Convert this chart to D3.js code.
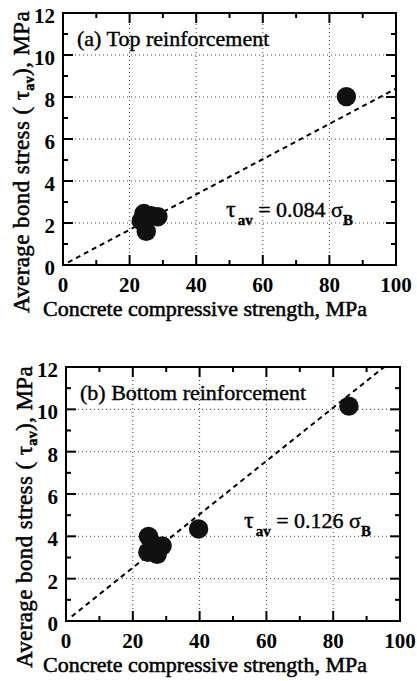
<!DOCTYPE html>
<html>
<head>
<meta charset="utf-8">
<script src="https://cdn.jsdelivr.net/npm/d3@7"></script>
<style>
  html, body { margin: 0; padding: 0; background: #fff; }
  svg { display: block; }
  text { font-family: "Liberation Serif", "DejaVu Serif", serif; fill: #000; }
</style>
</head>
<body>
<svg id="chart" width="417" height="681"></svg>
<script>
// ---------- data ----------
const xTickValues = [0, 20, 40, 60, 80, 100];
const yTickValues = [0, 2, 4, 6, 8, 10, 12];
const xMinorTicks = [10, 30, 50, 70, 90];
const yMinorTicks = [1, 3, 5, 7, 9, 11];
const xGrid = [20, 40, 60, 80];
const yGrid = [2, 4, 6, 8, 10];

// (a) Top reinforcement: concrete strength (MPa) vs average bond stress (MPa)
const topStrength = [24.3, 23.5, 26.5, 28.5, 25.0, 85.1];
const topBond     = [2.45, 2.10, 2.35, 2.30, 1.60, 8.02];
const topSlope = 0.084;
const topFitRange = [1.5, 100];

// (b) Bottom reinforcement
const botStrength = [24.7, 26.5, 28.8, 24.5, 27.3, 39.7, 84.7];
const botBond     = [4.00, 3.50, 3.55, 3.25, 3.15, 4.35, 10.15];
const botSlope = 0.126;
const botFitRange = [1.7, 95.2];

const panelLabels = ["(a) Top reinforcement", "(b) Bottom reinforcement"];
const slopeLabels = ["0.084", "0.126"];
const xTitle = "Concrete compressive strength, MPa";

// ---------- drawing ----------
const svg = d3.select("#chart");

function drawPanel(cfg) {
  const x = d3.scaleLinear().domain([0, 100]).range([cfg.left, cfg.right]);
  const y = d3.scaleLinear().domain([0, 12]).range([cfg.bottom, cfg.top]);
  const g = svg.append("g");

  // dotted grid
  g.selectAll(".gx").data(xGrid).join("line")
    .attr("x1", d => x(d)).attr("x2", d => x(d))
    .attr("y1", y(0)).attr("y2", y(12))
    .attr("stroke", "#444").attr("stroke-width", 1).attr("stroke-dasharray", "1,3");
  g.selectAll(".gy").data(yGrid).join("line")
    .attr("x1", x(0)).attr("x2", x(100))
    .attr("y1", d => y(d)).attr("y2", d => y(d))
    .attr("stroke", "#444").attr("stroke-width", 1).attr("stroke-dasharray", "1,3");

  // ticks (inward, all four sides)
  const major = 10, minor = 5;
  const tickStyle = sel => sel.attr("stroke", "#000").attr("stroke-width", 2);
  [[xTickValues, major], [xMinorTicks, minor]].forEach(([vals, len]) => {
    g.append("g").selectAll("line").data(vals).join("line")
      .attr("x1", d => x(d)).attr("x2", d => x(d))
      .attr("y1", y(0)).attr("y2", y(0) - len).call(tickStyle);
    g.append("g").selectAll("line").data(vals).join("line")
      .attr("x1", d => x(d)).attr("x2", d => x(d))
      .attr("y1", y(12)).attr("y2", y(12) + len).call(tickStyle);
  });
  [[yTickValues, major], [yMinorTicks, minor]].forEach(([vals, len]) => {
    g.append("g").selectAll("line").data(vals).join("line")
      .attr("y1", d => y(d)).attr("y2", d => y(d))
      .attr("x1", x(0)).attr("x2", x(0) + len).call(tickStyle);
    g.append("g").selectAll("line").data(vals).join("line")
      .attr("y1", d => y(d)).attr("y2", d => y(d))
      .attr("x1", x(100)).attr("x2", x(100) - len).call(tickStyle);
  });

  // frame
  g.append("rect")
    .attr("x", x(0)).attr("y", y(12))
    .attr("width", x(100) - x(0)).attr("height", y(0) - y(12))
    .attr("fill", "none").attr("stroke", "#000").attr("stroke-width", 2);

  // fit line
  const line = d3.line().x(d => x(d)).y(d => y(cfg.slope * d));
  g.append("path").datum(cfg.fitRange)
    .attr("d", line)
    .attr("fill", "none").attr("stroke", "#000")
    .attr("stroke-width", 2).attr("stroke-dasharray", "5,4");

  // points
  g.append("g").selectAll("circle").data(cfg.xs.map((v, i) => [v, cfg.ys[i]])).join("circle")
    .attr("cx", d => x(d[0])).attr("cy", d => y(d[1]))
    .attr("r", 9.7).attr("fill", "#111");

  // tick labels
  g.append("g").selectAll("text").data(xTickValues).join("text")
    .attr("x", d => x(d)).attr("y", y(0) + 27)
    .attr("text-anchor", "middle")
    .attr("font-size", 21).attr("font-weight", "bold")
    .text(d => d);
  g.append("g").selectAll("text").data(yTickValues).join("text")
    .attr("x", x(0) - 8).attr("y", d => y(d) + 10)
    .attr("text-anchor", "end")
    .attr("font-size", 21).attr("font-weight", "bold")
    .text(d => d);

  // panel label
  g.append("text")
    .attr("x", cfg.left + 14).attr("y", cfg.top + 33)
    .attr("font-size", 22).attr("stroke", "#000").attr("stroke-width", 0.4)
    .text(cfg.label);

  // formula
  const f = g.append("text")
    .attr("x", cfg.fx).attr("y", cfg.fy)
    .attr("font-size", 22).attr("stroke", "#000").attr("stroke-width", 0.4);
  f.append("tspan").attr("font-size", 24).text("τ");
  f.append("tspan").attr("dx", 2).attr("dy", 8).attr("font-size", 15).attr("font-weight", "bold").text("av");
  f.append("tspan").attr("dy", -8).text(" = " + cfg.slopeLabel + " σ");
  f.append("tspan").attr("dy", 8).attr("font-size", 15).attr("font-weight", "bold").text("B");

  // x title
  g.append("text")
    .attr("x", 43).attr("y", y(0) + 51)
    .attr("font-size", 21).attr("stroke", "#000").attr("stroke-width", 0.5)
    .attr("textLength", 324).attr("lengthAdjust", "spacingAndGlyphs")
    .text(xTitle);

  // y title
  const yc = (y(0) + y(12)) / 2 + 23;
  const t = g.append("text")
    .attr("transform", `translate(${cfg.left - 34},${yc}) rotate(-90)`)
    .attr("text-anchor", "middle")
    .attr("font-size", 23).attr("letter-spacing", 0.4)
    .attr("stroke", "#000").attr("stroke-width", 0.5);
  t.append("tspan").text("Average bond stress ( τ");
  t.append("tspan").attr("dy", 5).attr("font-size", 14).attr("font-weight", "bold").text("av");
  t.append("tspan").attr("dy", -5).text("), MPa");
}

drawPanel({
  left: 63, right: 396, top: 13, bottom: 265,
  xs: topStrength, ys: topBond, slope: topSlope, fitRange: topFitRange,
  label: panelLabels[0], slopeLabel: slopeLabels[0], fx: 226, fy: 217
});
drawPanel({
  left: 66, right: 400, top: 367, bottom: 621,
  xs: botStrength, ys: botBond, slope: botSlope, fitRange: botFitRange,
  label: panelLabels[1], slopeLabel: slopeLabels[1], fx: 244, fy: 528
});
</script>
</body>
</html>
